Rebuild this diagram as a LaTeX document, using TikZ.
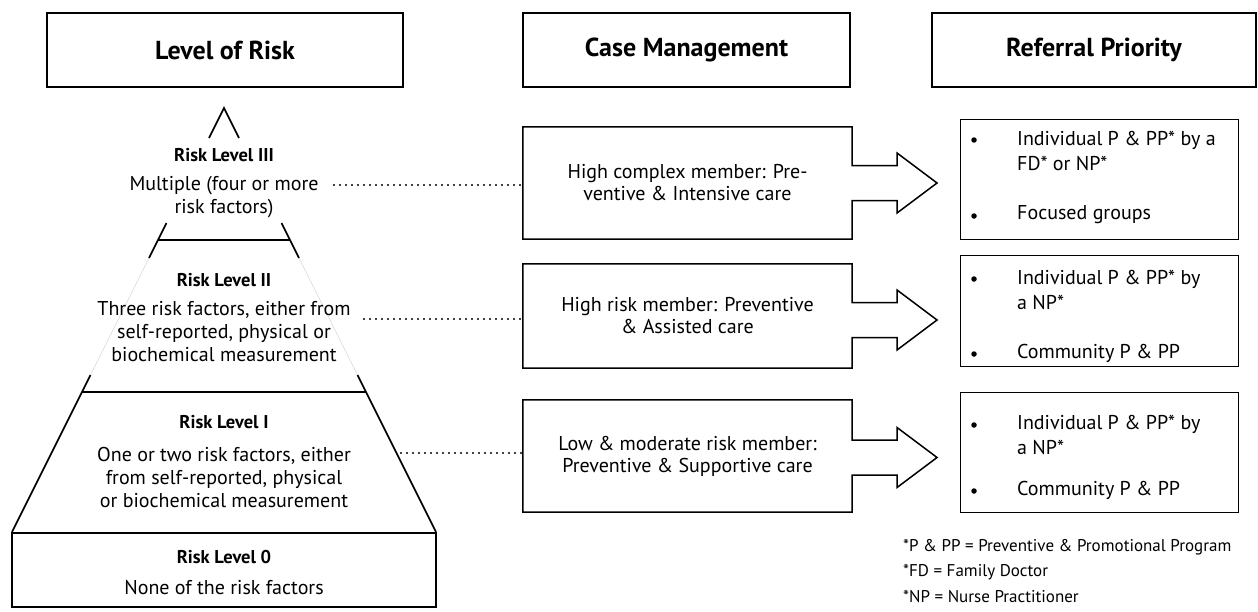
\documentclass[tikz,border=0pt]{standalone}
\usepackage{fontspec}
\setmainfont{PT Sans}
\begin{document}
\begin{tikzpicture}[x=1pt,y=-1pt,
  hdr/.style={draw,line width=1.8pt,font=\fontsize{26}{30}\selectfont\bfseries,inner sep=0pt},
  bodytxt/.style={align=center,font=\fontsize{20}{23}\selectfont,inner sep=0pt},
  headtxt/.style={font=\fontsize{18.5}{23}\selectfont\bfseries,inner sep=0pt},
  pyr/.style={line width=1.6pt},
  faint/.style={line width=0.8pt,black!12},
  cmbox/.style={minimum width=329pt,inner sep=0pt,align=center,font=\fontsize{20}{22}\selectfont},
  cmline/.style={line width=1.5pt,line join=miter},
  refbox/.style={draw,line width=0.9pt,minimum width=278pt,inner sep=0pt},
  reftxt/.style={anchor=west,align=left,inner sep=0pt,font=\fontsize{20}{25}\selectfont},
  bul/.style={circle,fill,inner sep=0pt,minimum size=5.5pt},
  note/.style={anchor=west,inner sep=0pt,font=\fontsize{17}{20}\selectfont},
  dotline/.style={line width=2.1pt,dash pattern=on 0pt off 6pt,line cap=round}]
\useasboundingbox (0,0) rectangle (1258,611);
% headers
\node[hdr,minimum width=356pt,minimum height=74pt] (h1) at (225,50) {Level of Risk};
\node[hdr,minimum width=327pt,minimum height=74pt] (h2) at (686.5,50) {Case Management};
\node[hdr,minimum width=324pt,minimum height=74pt] (h3) at (1094,50) {Referral Priority};
% pyramid
\draw[pyr] (209,138) -- (224,108) -- (239,138);
\draw[pyr] (166.5,223) -- (149,258);
\draw[pyr] (281.5,223) -- (299,258);
\draw[pyr] (158,240) -- (290,240);
\draw[faint] (149,258) -- (90.5,375);
\draw[faint] (299,258) -- (357.5,375);
\draw[pyr] (90.5,375) -- (12,532);
\draw[pyr] (357.5,375) -- (436,532);
\draw[pyr] (82,392) -- (366,392);
\node[draw,line width=1.8pt,minimum width=424pt,minimum height=74pt,inner sep=0pt] (r0box) at (224,570) {};
\node[headtxt] (r3h) at (224,155) {Risk Level III};
\node[bodytxt] (r3t) at (224,197) {Multiple (four or more\\risk factors)};
\node[headtxt] (r2h) at (224,280) {Risk Level II};
\node[bodytxt] (r2t) at (224,332) {Three risk factors, either from\\self-reported, physical or\\biochemical measurement};
\node[headtxt] (r1h) at (224,422) {Risk Level I};
\node[bodytxt] (r1t) at (224,477) {One or two risk factors, either\\from self-reported, physical\\or biochemical measurement};
\node[headtxt] (r0h) at (224,557) {Risk Level 0};
\node[bodytxt] (r0t) at (224,587) {None of the risk factors};
% case management boxes
\node[cmbox,minimum height=112pt] (cm1) at (687.5,183) {High complex member: Pre-\\ventive \& Intensive care};
\node[cmbox,minimum height=104pt] (cm2) at (687.5,316) {High risk member: Preventive\\\& Assisted care};
\node[cmbox,minimum height=112pt] (cm3) at (687.5,456) {Low \& moderate risk member:\\Preventive \& Supportive care};
\draw[cmline] (cm1.north west) -- (cm1.north east) -- (852,165.5) -- (897,165.5) -- (897,153) -- (937,183) -- (897,213) -- (897,200.5) -- (852,200.5) -- (cm1.south east) -- (cm1.south west) -- cycle;
\draw[cmline] (cm2.north west) -- (cm2.north east) -- (852,302.5) -- (897,302.5) -- (897,290) -- (937,320) -- (897,350) -- (897,337.5) -- (852,337.5) -- (cm2.south east) -- (cm2.south west) -- cycle;
\draw[cmline] (cm3.north west) -- (cm3.north east) -- (852,440) -- (897,440) -- (897,427.5) -- (937,457.5) -- (897,487.5) -- (897,475) -- (852,475) -- (cm3.south east) -- (cm3.south west) -- cycle;
% dotted connectors
\coordinate (d3) at (334,185);
\coordinate (d2) at (364,319);
\coordinate (d1) at (401,453);
\draw[dotline] (d3) -- (d3 -| cm1.west);
\draw[dotline] (d2) -- (d2 -| cm2.west);
\draw[dotline] (d1) -- (d1 -| cm3.west);
% referral boxes
\node[refbox,minimum height=120pt] (rp1) at (1099,179) {};
\node[refbox,minimum height=111pt] (rp2) at (1099,310.5) {};
\node[refbox,minimum height=120pt] (rp3) at (1099,452) {};
\node[bul] (b1a) at (974,140) {};
\node[reftxt] (t1a) at (1017,150.5) {Individual P \& PP* by a\\FD* or NP*};
\node[bul] (b1b) at (974,216) {};
\node[reftxt] (t1b) at (1017,215) {Focused groups};
\node[bul] (b2a) at (974,279) {};
\node[reftxt] (t2a) at (1017,289.5) {Individual P \& PP* by\\a NP*};
\node[bul] (b2b) at (974,354) {};
\node[reftxt] (t2b) at (1017,353) {Community P \& PP};
\node[bul] (b3a) at (974,425) {};
\node[reftxt] (t3a) at (1017,435) {Individual P \& PP* by\\a NP*};
\node[bul] (b3b) at (974,491) {};
\node[reftxt] (t3b) at (1017,490) {Community P \& PP};
% notes
\node[note] (n1) at (903,547) {*P \& PP = Preventive \& Promotional Program};
\node[note] (n2) at (903,572) {*FD = Family Doctor};
\node[note] (n3) at (903,597) {*NP = Nurse Practitioner};
\end{tikzpicture}
\end{document}
